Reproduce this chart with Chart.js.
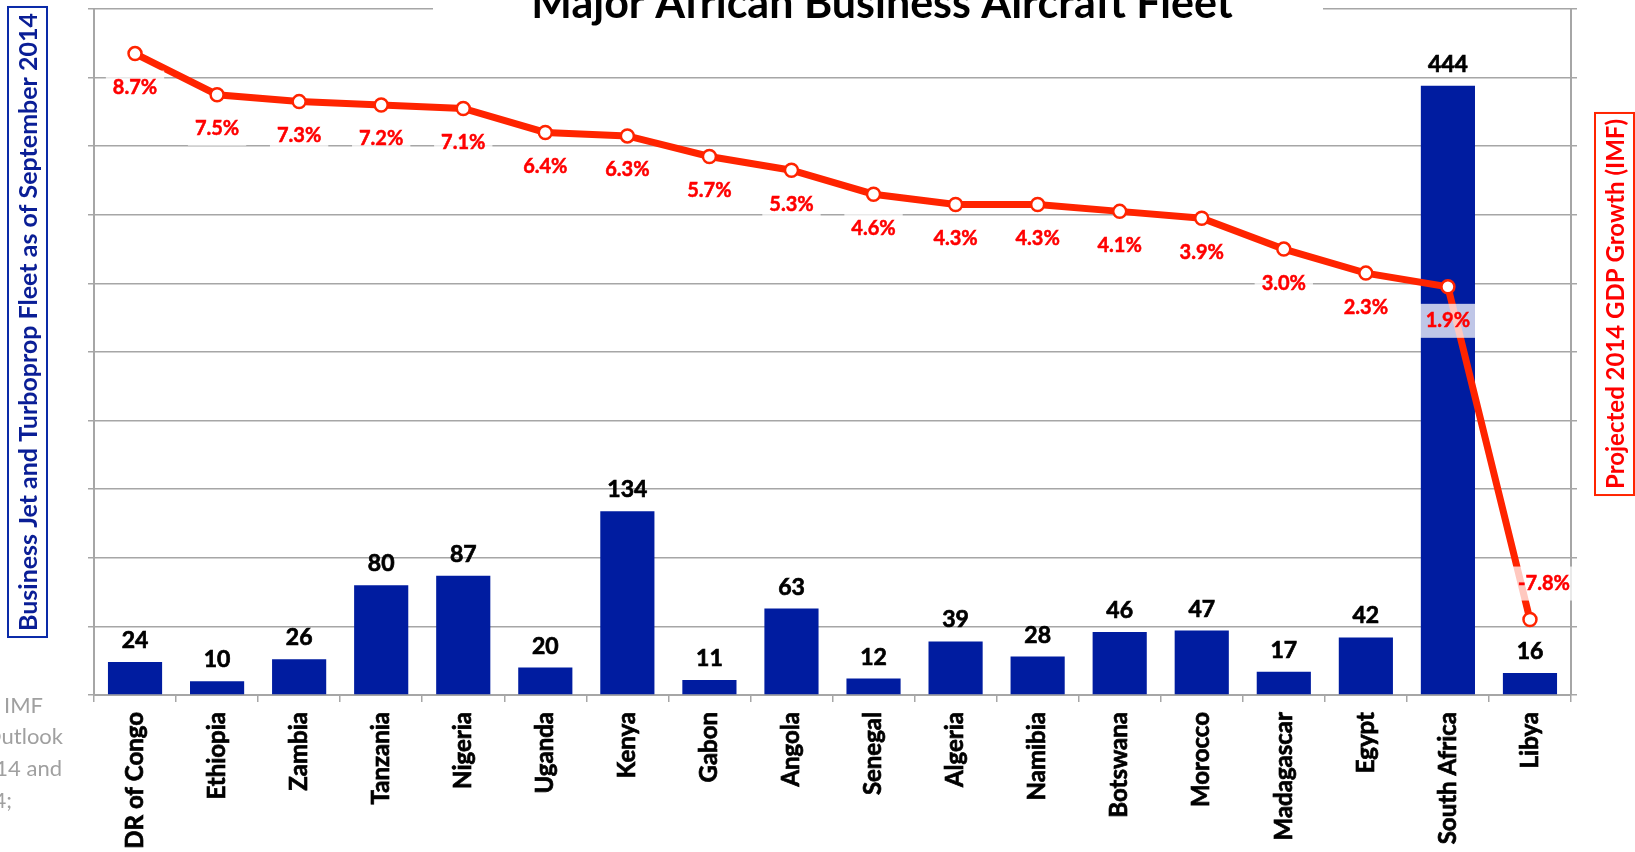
<!DOCTYPE html>
<html>
<head>
<meta charset="utf-8">
<script src="https://cdn.jsdelivr.net/npm/chart.js"></script>
<style>
body { margin: 0; background: #fff; }
#wrap { width: 1635px; height: 852px; position: relative; }
</style>
</head>
<body>
<div id="wrap"><canvas id="fleet"></canvas></div>
<script>
var countries = ['DR of Congo', 'Ethiopia', 'Zambia', 'Tanzania', 'Nigeria', 'Uganda', 'Kenya', 'Gabon', 'Angola',
    'Senegal', 'Algeria', 'Namibia', 'Botswana', 'Morocco', 'Madagascar', 'Egypt', 'South Africa', 'Libya'];
var fleet = [24, 10, 26, 80, 87, 20, 134, 11, 63, 12, 39, 28, 46, 47, 17, 42, 444, 16];
var gdp = [8.7, 7.5, 7.3, 7.2, 7.1, 6.4, 6.3, 5.7, 5.3, 4.6, 4.3, 4.3, 4.1, 3.9, 3.0, 2.3, 1.9, -7.8];
var fleetMin = 0, fleetMax = 500, fleetStep = 50;
var gdpMin = -10, gdpMax = 10, gdpStep = 2;

var gridGray = '#A6A6A6';
var barBlue = '#001CA0';
var lineRed = '#FF2400';

var extras = {
    id: 'extras',
    afterDatasetsDraw: function (chart) {
        var ctx = chart.ctx;
        ctx.save();
        // numbers on top of the bars
        var bars = chart.getDatasetMeta(1).data;
        ctx.font = 'bold 23px Lato';
        ctx.fillStyle = '#000';
        ctx.strokeStyle = '#000';
        ctx.lineWidth = 0.7;
        ctx.textAlign = 'center';
        ctx.textBaseline = 'alphabetic';
        bars.forEach(function (b, i) {
            ctx.fillText(fleet[i], b.x, b.y - 14);
            ctx.strokeText(fleet[i], b.x, b.y - 14);
        });
        // gdp labels with the white boxes
        var pts = chart.getDatasetMeta(0).data;
        ctx.font = 'bold 20px Lato';
        ctx.textBaseline = 'middle';
        ctx.strokeStyle = '#FF0000';
        ctx.lineWidth = 0.5;
        pts.forEach(function (p, i) {
            var txt = gdp[i].toFixed(1) + '%';
            var x = p.x, y = p.y + 34;
            if (i == pts.length - 1) { x = p.x + 14; y = p.y - 36; }
            var w = ctx.measureText(txt).width + 14;
            ctx.fillStyle = 'rgba(255,255,255,0.75)';
            ctx.fillRect(x - w / 2, y - 17, w, 34);
            ctx.fillStyle = '#FF0000';
            ctx.fillText(txt, x, y);
            ctx.strokeText(txt, x, y);
        });
        ctx.restore();
    },
    afterDraw: function (chart) {
        var ctx = chart.ctx;
        ctx.save();
        // title (cut off at the top)
        ctx.fillStyle = '#fff';
        ctx.fillRect(433, 0, 890, 26);
        ctx.font = 'bold 43px Lato';
        ctx.fillStyle = '#000';
        ctx.textAlign = 'center';
        ctx.textBaseline = 'alphabetic';
        ctx.fillText('Major African Business Aircraft Fleet', 882, 18);

        // left axis title
        ctx.font = 'bold 25px Lato';
        ctx.textBaseline = 'middle';
        var lt = 'Business Jet and Turboprop Fleet as of September 2014';
        var lw = ctx.measureText(lt).width;
        ctx.translate(28, 322);
        ctx.rotate(-Math.PI / 2);
        ctx.strokeStyle = '#0A2AA8';
        ctx.lineWidth = 2;
        ctx.strokeRect(-lw / 2 - 6, -20, lw + 12, 39);
        ctx.fillStyle = '#0A1E96';
        ctx.fillText(lt, 0, 1);
        ctx.setTransform(1, 0, 0, 1, 0, 0);

        // right axis title
        ctx.font = 'bold 24px Lato';
        var rt = 'Projected 2014 GDP Growth (IMF)';
        var rw = ctx.measureText(rt).width;
        ctx.translate(1615, 304);
        ctx.rotate(-Math.PI / 2);
        ctx.strokeStyle = lineRed;
        ctx.strokeRect(-rw / 2 - 6, -20, rw + 12, 39);
        ctx.fillStyle = '#FF0000';
        ctx.fillText(rt, 0, 1);
        ctx.setTransform(1, 0, 0, 1, 0, 0);

        // source note, cut at the left edge
        ctx.font = '22px Lato';
        ctx.fillStyle = '#A0A0A0';
        ctx.textAlign = 'right';
        ctx.textBaseline = 'alphabetic';
        ctx.fillText('IMF', 43, 713);
        ctx.fillText('Outlook', 63, 744);
        ctx.fillText('2014 and', 62, 776);
        ctx.fillText('2014;', 12, 808);
        ctx.restore();
    }
};

const ctx = document.getElementById('fleet');
const fleetChart = new Chart(ctx, {
    type: 'bar',
    data: {
        labels: countries,
        datasets: [{
            type: 'line',
            label: 'Projected 2014 GDP Growth (IMF)',
            data: gdp,
            yAxisID: 'y1',
            order: 0,
            borderColor: lineRed,
            borderWidth: 7,
            tension: 0,
            pointRadius: 6.5,
            pointBorderWidth: 2.5,
            pointBackgroundColor: '#fff',
            pointBorderColor: lineRed
        }, {
            label: 'Business Jet and Turboprop Fleet',
            data: fleet,
            yAxisID: 'y',
            order: 1,
            backgroundColor: barBlue,
            categoryPercentage: 1,
            barPercentage: 0.66
        }]
    },
    options: {
        responsive: true,
        maintainAspectRatio: false,
        animation: false,
        layout: { padding: { top: 8, left: 0, right: 0, bottom: 0 } },
        plugins: {
            legend: { display: false },
            tooltip: { enabled: false },
            title: { display: false }
        },
        scales: {
            x: {
                grid: { display: true, drawOnChartArea: false, drawTicks: true, tickLength: 7, color: gridGray, lineWidth: 1.5 },
                border: { color: gridGray, width: 2 },
                ticks: {
                    autoSkip: false, minRotation: 90, maxRotation: 90, padding: 10,
                    color: '#000', textStrokeColor: '#000', textStrokeWidth: 0.7,
                    font: { family: 'Lato', size: 24, weight: 'bold' }
                },
                afterFit: function (s) { s.height = 157; }
            },
            y: {
                position: 'left',
                min: fleetMin, max: fleetMax,
                ticks: { display: false, stepSize: fleetStep },
                grid: { color: gridGray, lineWidth: 1.5, tickLength: 6 },
                border: { color: gridGray, width: 2 },
                afterFit: function (s) { s.width = 94; }
            },
            y1: {
                position: 'right',
                min: gdpMin, max: gdpMax,
                ticks: { display: false, stepSize: gdpStep },
                grid: { drawOnChartArea: false, color: gridGray, lineWidth: 1.5, tickLength: 6 },
                border: { color: gridGray, width: 2 },
                afterFit: function (s) { s.width = 64; }
            }
        }
    },
    plugins: [extras]
});
</script>
</body>
</html>
